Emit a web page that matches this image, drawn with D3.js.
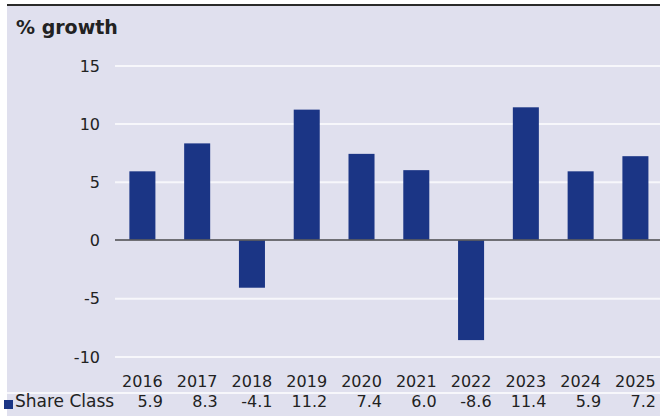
<!DOCTYPE html>
<html lang="en">
<head>
    <meta charset="UTF-8">
    <title>% growth</title>
    <script src="https://d3js.org/d3.v7.min.js"></script>
    <style>
        body { margin: 0; background: #fff; }
        text { font-family: "DejaVu Sans", Verdana, sans-serif; fill: #222; }
    </style>
</head>
<body>
<div id="chart"></div>

<script>
    // Data
    const years = ['2016', '2017', '2018', '2019', '2020', '2021', '2022', '2023', '2024', '2025'];
    const shareClass = [5.9, 8.3, -4.1, 11.2, 7.4, 6.0, -8.6, 11.4, 5.9, 7.2];
    const yTicks = [-10, -5, 0, 5, 10, 15];
    const seriesName = 'Share Class';
    const title = '% growth';

    const width = 660;
    const height = 416;

    const svg = d3.select('#chart')
        .append('svg')
        .attr('width', width)
        .attr('height', height);

    // panel background + top rule
    svg.append('rect')
        .attr('x', 7).attr('y', 5)
        .attr('width', width - 7).attr('height', height - 5)
        .attr('fill', '#e0e0ee');
    svg.append('line')
        .attr('x1', 7).attr('x2', width)
        .attr('y1', 5).attr('y2', 5)
        .attr('stroke', '#2a2a2a')
        .attr('stroke-width', 2);

    svg.append('text')
        .attr('x', 16).attr('y', 34)
        .attr('font-size', 19)
        .attr('font-weight', 'bold')
        .text(title);

    // scales
    const x = d3.scaleBand()
        .domain(years)
        .range([115, 662.8])
        .paddingInner(0.525)
        .paddingOuter(0.2625);
    const y = d3.scaleLinear().domain([-10, 15]).range([356.4, 65.4]);

    // gridlines + y labels (plain hyphen for negatives, like the original)
    const yAxis = svg.append('g')
        .attr('transform', 'translate(115,0)')
        .call(d3.axisLeft(y).tickValues(yTicks).tickFormat(d => String(d)).tickSize(0).tickPadding(15))
        .call(g => g.select('.domain').remove());
    yAxis.selectAll('.tick text')
        .attr('font-size', 16)
        .attr('font-family', '"DejaVu Sans", Verdana, sans-serif')
        .attr('fill', '#222')
        .attr('dy', '0.36em');
    yAxis.selectAll('.tick')
        .filter(d => d !== 0)
        .append('line')
        .attr('x2', width - 115)
        .attr('stroke', '#f7f7fb')
        .attr('stroke-width', 2);

    // bars
    svg.append('g')
        .selectAll('rect')
        .data(shareClass)
        .join('rect')
        .attr('x', (d, i) => x(years[i]))
        .attr('width', x.bandwidth())
        .attr('y', d => y(Math.max(0, d)))
        .attr('height', d => Math.abs(y(d) - y(0)))
        .attr('fill', '#1b3585');

    // zero line
    svg.append('line')
        .attr('x1', 115).attr('x2', width)
        .attr('y1', y(0)).attr('y2', y(0))
        .attr('stroke', '#5a5a5e')
        .attr('stroke-width', 2)
        .attr('stroke-opacity', 0.85);

    // category labels
    const center = d => x(d) + x.bandwidth() / 2;
    svg.append('g')
        .selectAll('text')
        .data(years)
        .join('text')
        .attr('x', center)
        .attr('y', 387)
        .attr('text-anchor', 'middle')
        .attr('font-size', 16)
        .text(d => d);

    // data table row
    svg.append('line')
        .attr('x1', 7).attr('x2', width)
        .attr('y1', 393).attr('y2', 393)
        .attr('stroke', '#fff')
        .attr('stroke-width', 1.5);
    svg.append('rect')
        .attr('x', 4).attr('y', 400)
        .attr('width', 9).attr('height', 9)
        .attr('fill', '#1b3585');
    svg.append('text')
        .attr('x', 15).attr('y', 407)
        .attr('font-size', 17)
        .text(seriesName);
    svg.append('g')
        .selectAll('text')
        .data(shareClass)
        .join('text')
        .attr('x', (d, i) => center(years[i]) + 20.5)
        .attr('y', 407)
        .attr('text-anchor', 'end')
        .attr('font-size', 16)
        .text(d => d.toFixed(1));
</script>

</body>
</html>
